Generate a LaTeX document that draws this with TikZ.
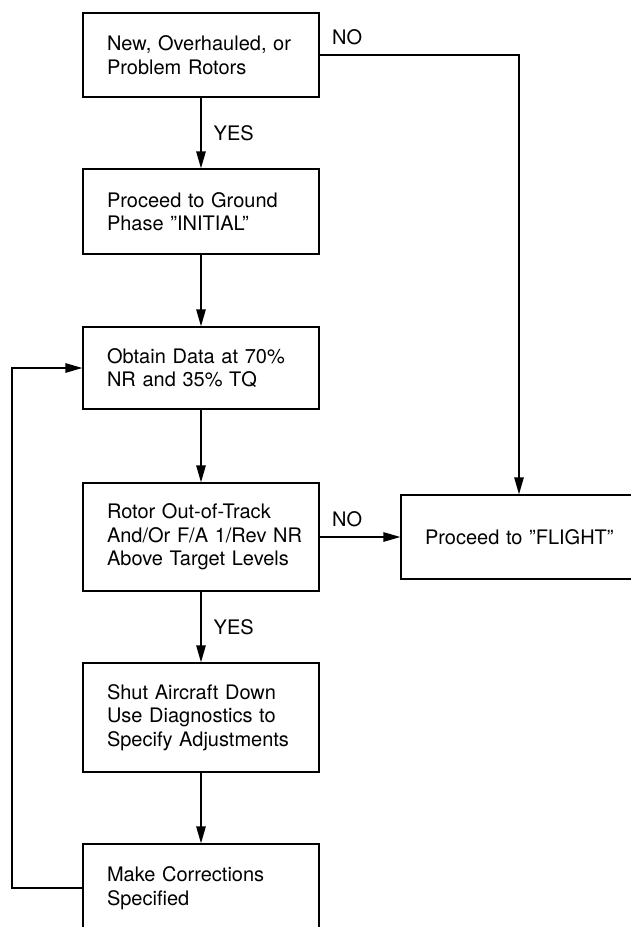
\documentclass[tikz,border=0pt]{standalone}
\usepackage{fontspec}
\setmainfont{TeX Gyre Heros}
\usetikzlibrary{arrows.meta,calc}
\begin{document}
\begin{tikzpicture}[x=1pt,y=-1pt,
  flowbox/.style={draw, line width=1.4pt, minimum width=236pt, text width=212pt,
    inner xsep=12pt, inner ysep=0pt,
    execute at begin node={\raggedright\leftskip=12pt\relax},
    font=\fontsize{20}{23.5}\selectfont},
  lbl/.style={font=\fontsize{20}{23.5}\selectfont, inner sep=0pt, anchor=west},
  conn/.style={line width=1.4pt, -{Triangle[length=17pt,width=9.5pt]}}]
\useasboundingbox (0,0) rectangle (631,927);
\clip (0,0) rectangle (631,927);
\node[flowbox, minimum height=84pt] (b1) at (201,55) {New, Overhauled, or\\Problem Rotors};
\node[flowbox, minimum height=85pt] (b2) at (201,211.5) {Proceed to Ground\\Phase ”INITIAL”};
\node[flowbox, minimum height=82pt] (b3) at (201,368) {Obtain Data at 70\%\\NR and 35\% TQ};
\node[flowbox, minimum height=108pt] (b4) at (201,537) {Rotor Out-of-Track\\And/Or F/A 1/Rev NR\\Above Target Levels};
\node[flowbox, minimum height=109pt] (b5) at (201,717.5) {Shut Aircraft Down\\Use Diagnostics to\\Specify Adjustments};
\node[flowbox, minimum height=88pt] (b6) at (201,888) {Make Corrections\\Specified};
\node[flowbox, minimum height=84pt] (bf) at (519,537) {Proceed to ”FLIGHT”};
\coordinate (fb) at (12,888);
\draw[conn] (b1) -- node[lbl, pos=0.5, xshift=12pt] (y1) {YES} (b2);
\draw[conn] (b2) -- (b3);
\draw[conn] (b3) -- (b4);
\draw[conn] (b4) -- node[lbl, pos=0.5, xshift=12pt] (y2) {YES} (b5);
\draw[conn] (b5) -- (b6);
\draw[conn] (b1.east) -- (bf.north |- b1.east) -- (bf.north);
\node[lbl] (n1) at (332,37) {NO};
\draw[conn] (b4.east) -- (bf.west);
\node[lbl] (n2) at (332,519) {NO};
\draw[conn] (b6.west) -- (fb) -- (fb |- b3.west) -- (b3.west);
\end{tikzpicture}
\end{document}
